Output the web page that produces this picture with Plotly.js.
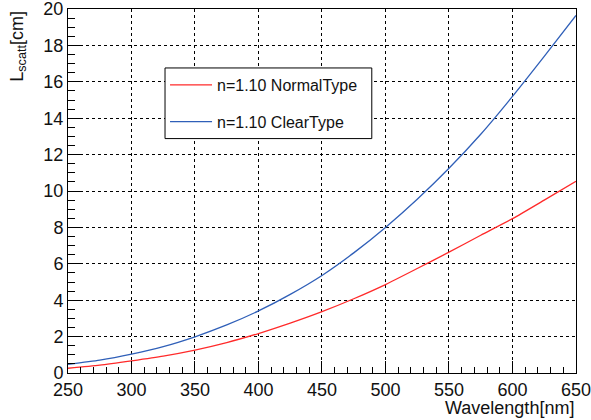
<!DOCTYPE html>
<html>
<head>
<meta charset="utf-8">
<script src="https://cdn.plot.ly/plotly-3.0.1.min.js"></script>
<style>html,body{margin:0;padding:0;background:#fff;}#chart{width:591px;height:420px;}</style>
</head>
<body>
<div id="chart"></div>
<script>
const wavelength = [250, 275, 300, 325, 350, 375, 400, 425, 450, 475, 500, 525, 550, 575, 600, 625, 650];
const normalType = [0.26, 0.43, 0.67, 0.93, 1.26, 1.67, 2.17, 2.74, 3.37, 4.08, 4.86, 5.74, 6.64, 7.57, 8.48, 9.5, 10.54];
const clearType  = [0.48, 0.71, 1.04, 1.45, 1.99, 2.64, 3.41, 4.32, 5.36, 6.6, 8.0, 9.55, 11.25, 13.12, 15.2, 17.4, 19.65];
const seriesNames = ['n=1.10 NormalType', 'n=1.10 ClearType'];
const yTicks = [0, 2, 4, 6, 8, 10, 12, 14, 16, 18, 20];
const xTicks = [250, 300, 350, 400, 450, 500, 550, 600, 650];

const font = '"Liberation Sans", Arial, Helvetica, sans-serif';

const traces = [
  {x: wavelength, y: normalType, name: seriesNames[0], mode: 'lines', legendgroup: 'a',
   line: {color: '#ff2a2a', width: 1.3, shape: 'spline', smoothing: 0.6}},
  {x: wavelength, y: clearType, name: seriesNames[1], mode: 'lines', legendgroup: 'b',
   line: {color: '#2f5fb8', width: 1.3, shape: 'spline', smoothing: 0.6}}
];

const axisCommon = {
  showline: true, linecolor: '#000', linewidth: 1, mirror: true,
  ticks: 'inside', ticklen: 12, tickcolor: '#000', tickwidth: 1,
  showgrid: true, gridcolor: '#000', griddash: 'dot', gridwidth: 1,
  zeroline: false, ticklabeloverflow: 'allow',
  tickfont: {family: font, size: 18, color: '#111'}
};

const layout = {
  width: 591, height: 420,
  margin: {l: 68, r: 15, t: 9, b: 47},
  paper_bgcolor: '#fff', plot_bgcolor: '#fff',
  showlegend: true,
  xaxis: Object.assign({}, axisCommon, {
    range: [250, 650.02], tickmode: 'array', tickvals: xTicks,
    minor: {dtick: 10, ticks: 'inside', ticklen: 6, tickcolor: '#000', showgrid: false}
  }),
  yaxis: Object.assign({}, axisCommon, {
    range: [0, 20.002], tickmode: 'array', tickvals: yTicks,
    minor: {dtick: 0.5, ticks: 'inside', ticklen: 7, tickcolor: '#000', showgrid: false}
  }),
  legend: {
    x: 0.191, y: 0.838, xanchor: 'left', yanchor: 'top',
    bgcolor: 'rgba(0,0,0,0)', borderwidth: 0,
    font: {family: font, size: 16, color: '#111'},
    traceorder: 'grouped', tracegroupgap: 13, itemwidth: 42
  },
  shapes: [
    {type: 'rect', xref: 'paper', yref: 'paper', x0: 0.191, x1: 0.598, y0: 0.644, y1: 0.838,
     fillcolor: '#fff', line: {color: '#000', width: 1}, layer: 'above'}
  ],
  annotations: [
    {xref: 'paper', yref: 'paper', x: -0.098, y: 1.0, xanchor: 'center', yanchor: 'top',
     textangle: -90, showarrow: false, text: 'L<sub>scatt</sub>[cm]',
     font: {family: font, size: 18, color: '#111'}},
    {xref: 'paper', yref: 'paper', x: 1.0, y: -0.095, xanchor: 'right', yanchor: 'middle',
     showarrow: false, text: 'Wavelength[nm]',
     font: {family: font, size: 18, color: '#111'}}
  ]
};

Plotly.newPlot('chart', traces, layout, {displayModeBar: false, staticPlot: true});
</script>
</body>
</html>
